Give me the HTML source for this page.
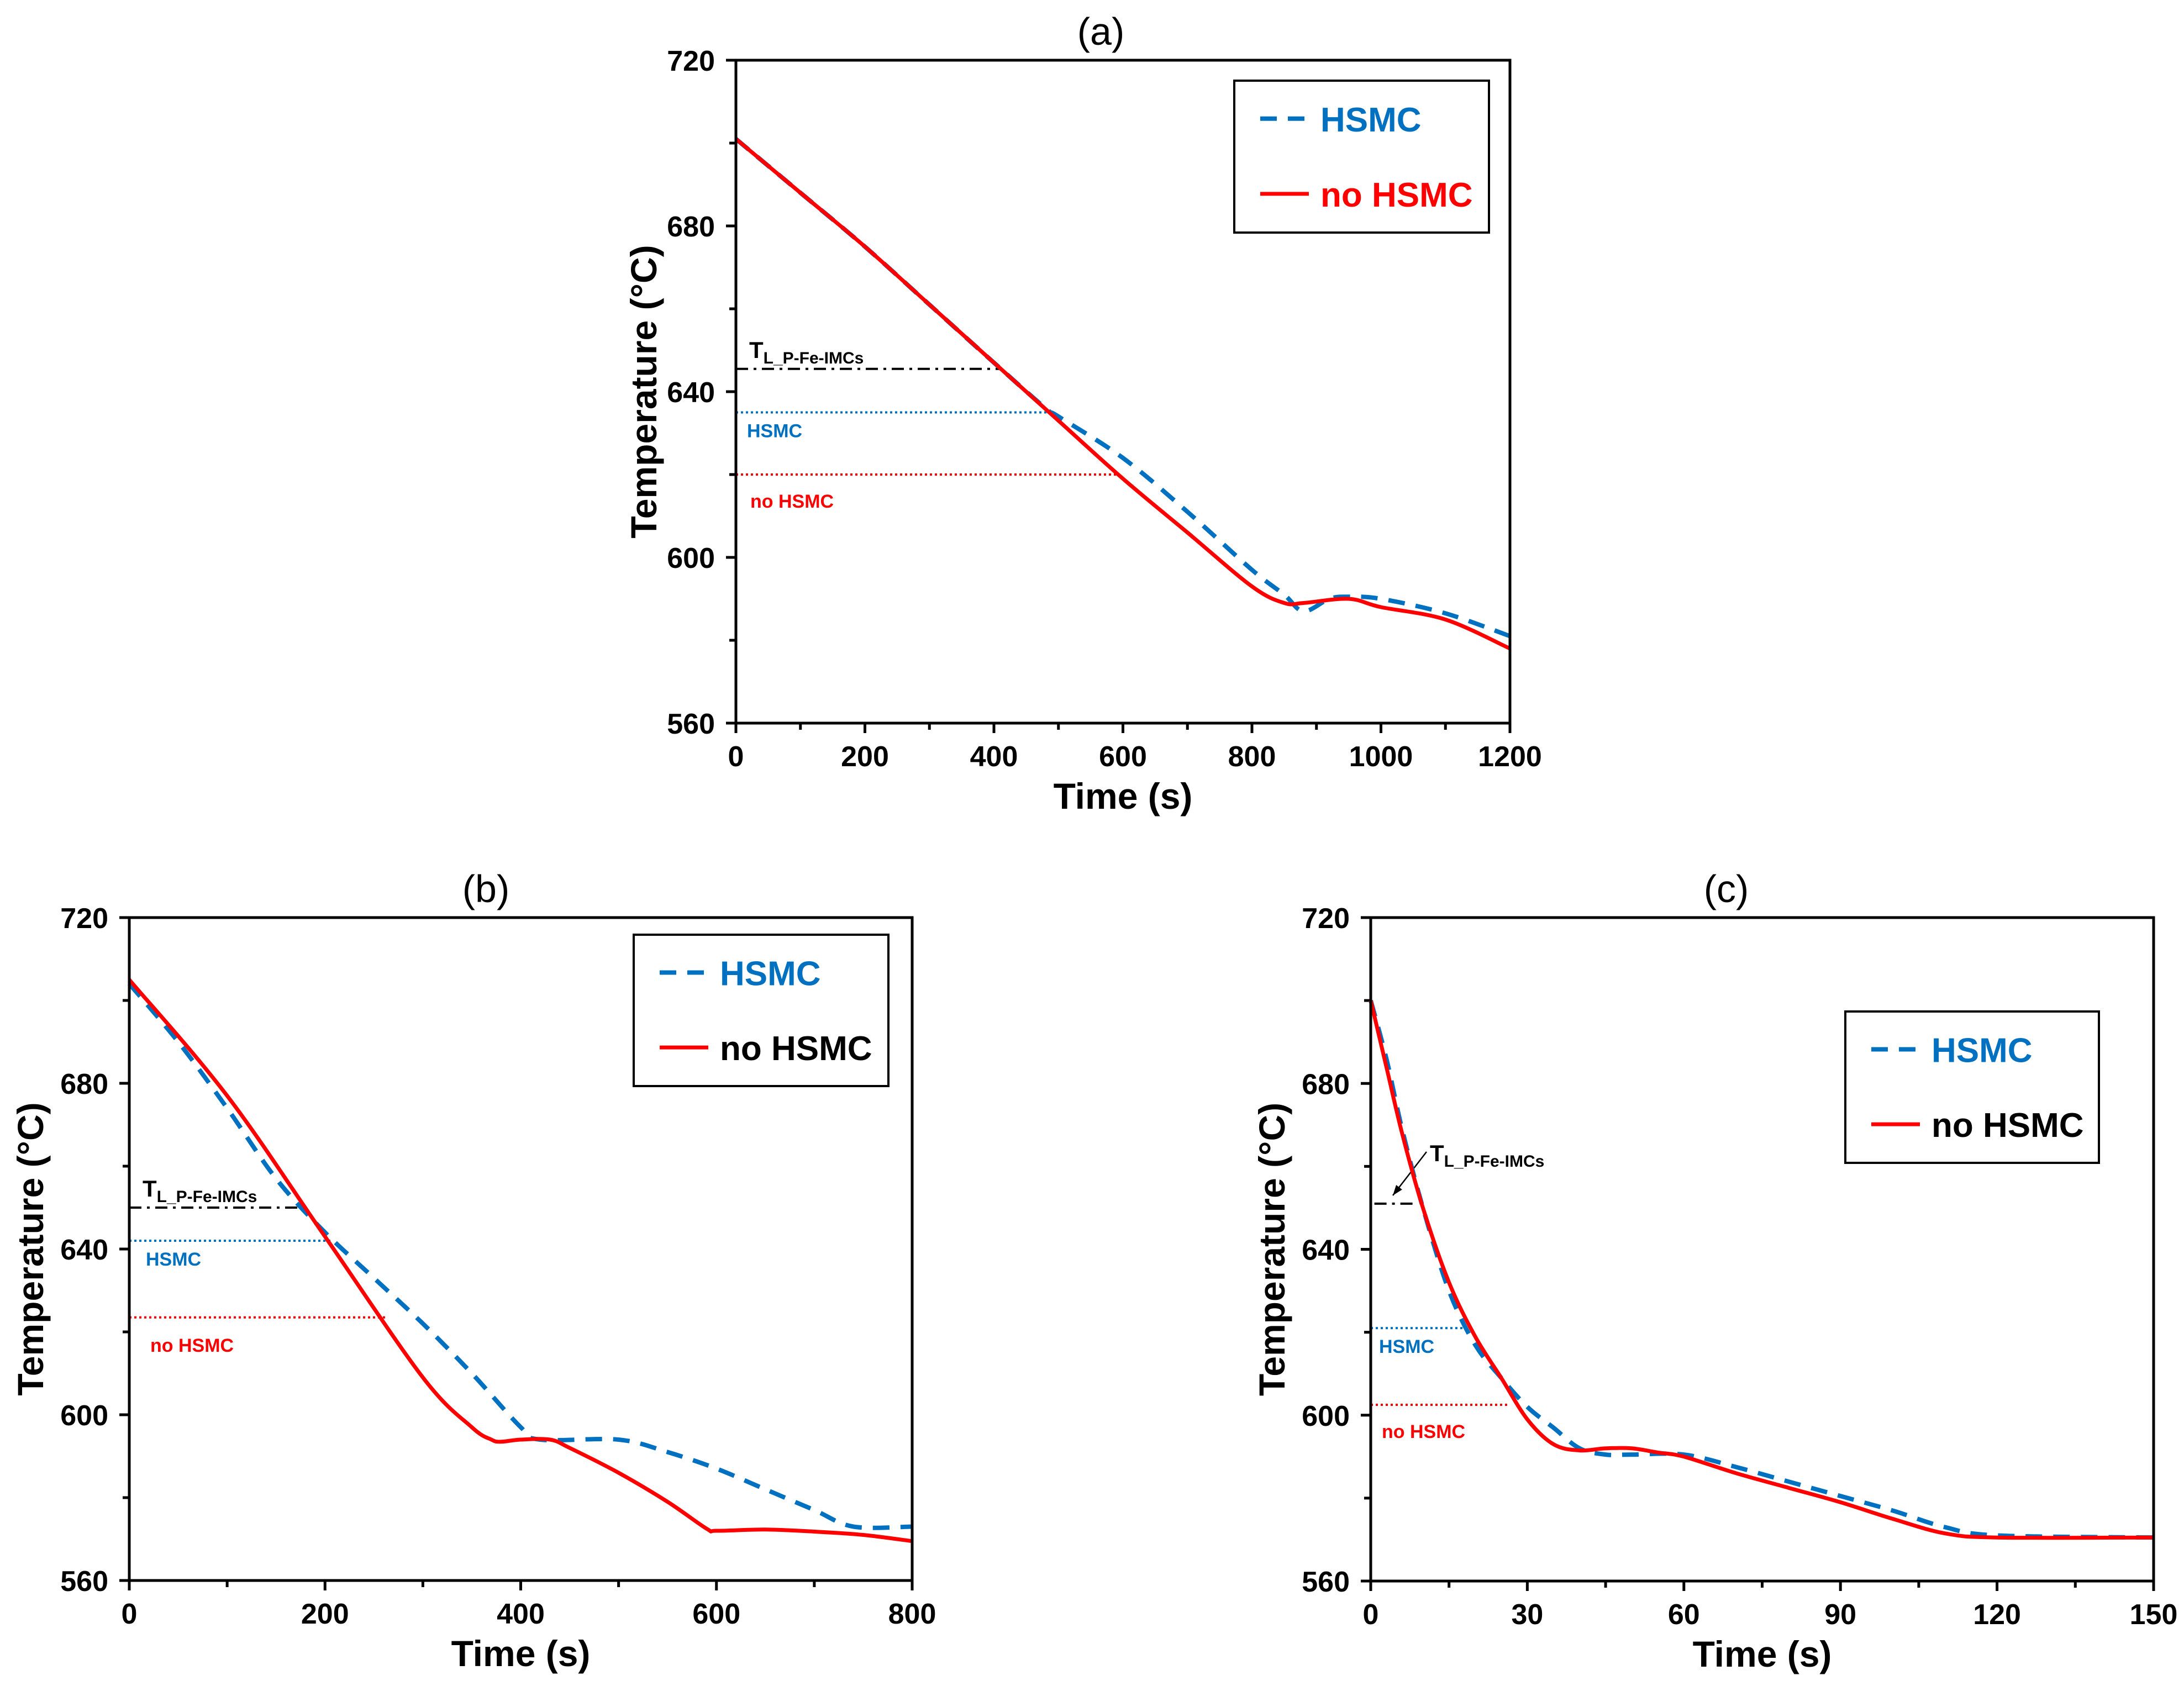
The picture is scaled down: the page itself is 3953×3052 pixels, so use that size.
<!DOCTYPE html>
<html><head><meta charset="utf-8"><style>
html,body{margin:0;padding:0;background:#fff;}
svg{display:block;font-family:"Liberation Sans",Arial,sans-serif;}
</style></head><body>
<svg id="chart" width="3953" height="3052" viewBox="0 0 3953 3052" xmlns="http://www.w3.org/2000/svg"></svg>
<script>
// ---- data: panel (a)
const aTime = [0,100,200,300,400,480,500,600,700,800,850,880,920,950,1000,1100,1200];
const aHSMC = [701,688,675,661,647,636,634,624,611,597,591,587,590,590.5,590,586.5,581];
const aNoTime = [0,100,200,300,400,500,600,700,800,850,880,950,1000,1100,1200];
const aNo = [701,688,675,661,647,633,619,606,593,589,589,590,588,585,578];
// ---- data: panel (b)
const bTime = [0,50,100,150,200,250,300,350,400,420,500,550,600,650,700,740,800];
const bHSMC = [704,690,674,657,644,633,622,610,597,594,594,591,587,582,577,573,573];
const bNoTime = [0,100,200,300,350,370,380,400,430,450,500,550,590,600,650,700,750,800];
const bNo = [705,677,643,609,597,594,593.5,594,594,592,586,579,572.5,572,572.3,571.8,571,569.5];
// ---- data: panel (c)
const cTime = [0,3,6,10,15,20,25,30,35,40,45,50,60,70,80,90,100,110,120,150];
const cHSMC = [700,686,669,650,630,617,609,602,597,592,590.5,590.5,590.5,587.5,584,580.5,577,573,571,570.5];
const cNoTime = [0,3,6,10,15,20,25,30,35,40,45,50,55,60,70,80,90,100,110,120,150];
const cNo = [700,684,668,650,632,619,609,599,593,591.5,592,592,591,590,586,582.5,579,575,571.5,570.5,570.5];
// ---- ticks
const yTicks = [560,600,640,680,720];
const aXTicks = [0,200,400,600,800,1000,1200];
const bXTicks = [0,200,400,600,800];
const cXTicks = [0,30,60,90,120,150];
// reference levels [TL, HSMC, noHSMC] and line end times
const aLevels = [645.5,635,620]; const aEnds = [411,490,590];
const bLevels = [650,642,623.5]; const bEnds = [185,207,262];
const cLevels = [651,621,602.5]; const cEnds = [9,18,26.5];

const NS="http://www.w3.org/2000/svg";
const svg=document.getElementById('chart');
function mk(tag,attrs,parent){const e=document.createElementNS(NS,tag);for(const k in attrs)e.setAttribute(k,attrs[k]);(parent||svg).appendChild(e);return e;}
const BLUE="#0070C0", RED="#FF0000";

function smoothPath(P){
  let d='M'+P[0][0].toFixed(1)+','+P[0][1].toFixed(1);
  for(let i=0;i<P.length-1;i++){
    const p0=P[Math.max(0,i-1)],p1=P[i],p2=P[i+1],p3=P[Math.min(P.length-1,i+2)];
    const k=1/6;
    const c1=[p1[0]+(p2[0]-p0[0])*k,p1[1]+(p2[1]-p0[1])*k];
    const c2=[p2[0]-(p3[0]-p1[0])*k,p2[1]-(p3[1]-p1[1])*k];
    d+=` C${c1[0].toFixed(1)},${c1[1].toFixed(1)} ${c2[0].toFixed(1)},${c2[1].toFixed(1)} ${p2[0].toFixed(1)},${p2[1].toFixed(1)}`;
  }
  return d;
}

function panel(o){
  const g=mk('g',{});
  
  
  const X=t=>o.L+(t-o.xmin)/(o.xmax-o.xmin)*(o.R-o.L);
  const Y=v=>o.B-(v-560)/(720-560)*(o.B-o.T);
  const tt=mk('text',{x:(o.L+o.R)/2-o.tshift,y:o.T-28,'font-size':70,'text-anchor':'middle',fill:'#000'},g);
  tt.textContent='('+o.id+')';
  
  
  const step=(o.xTicks[1]-o.xTicks[0])/2;
  for(let t=o.xmin;t<=o.xmax+1e-9;t+=step){
    const major=o.xTicks.some(v=>Math.abs(v-t)<1e-6);
    mk('line',{x1:X(t),x2:X(t),y1:o.B,y2:o.B+(major?18:12),stroke:'#000','stroke-width':5},g);
  }
  o.xTicks.forEach(t=>{
    const e=mk('text',{x:X(t),y:o.B+78,'font-size':52,'font-weight':'bold','text-anchor':'middle'},g);
    e.textContent=t;
    
    
  });
  for(let v=560;v<=720;v+=20){
    const major=yTicks.includes(v);
    mk('line',{x1:o.L-(major?18:12),x2:o.L,y1:Y(v),y2:Y(v),stroke:'#000','stroke-width':5},g);
  }
  yTicks.forEach(v=>{
    const e=mk('text',{x:o.L-38,y:Y(v)+19,'font-size':52,'font-weight':'bold','text-anchor':'end'},g);
    e.textContent=v;
    
    
  });
  const xt=mk('text',{x:(o.L+o.R)/2,y:o.B+155,'font-size':66,'font-weight':'bold','text-anchor':'middle'},g);
  xt.textContent='Time (s)';
  
  
  const cy=(o.T+o.B)/2;
  const yt=mk('text',{x:o.ytx,y:cy,'font-size':66,'font-weight':'bold','text-anchor':'middle',transform:`rotate(-90 ${o.ytx} ${cy})`},g);
  yt.textContent='Temperature (°C)';
  
  
  const refStyles=[{c:'#000',d:'22 10 5 10',w:4},{c:BLUE,d:'4 5',w:4},{c:RED,d:'4 5',w:4}];
  const refNames=['tl-reference-line','hsmc-reference-line','no-hsmc-reference-line'];
  o.levels.forEach((lv,i)=>{
    const x0=o.id==='c'&&i===0?X(0.7):o.L;
    const l=mk('line',{x1:x0,x2:X(o.ends[i]),y1:Y(lv),y2:Y(lv),stroke:refStyles[i].c,'stroke-width':refStyles[i].w,'stroke-dasharray':refStyles[i].d},g);
    
    
  });
  const tl=mk('text',{x:o.tlx,y:o.tly,'font-size':42,'font-weight':'bold',fill:'#000'},g);
  
  
  tl.innerHTML='T<tspan font-size="30" dy="10">L_P-Fe-IMCs</tspan>';
  const hl=mk('text',{x:o.hx,y:Y(o.levels[1])+45,'font-size':34,'font-weight':'bold',fill:BLUE},g);
  hl.textContent='HSMC';
  
  
  const nl=mk('text',{x:o.nx,y:Y(o.levels[2])+o.noff,'font-size':34,'font-weight':'bold',fill:RED},g);
  nl.textContent='no HSMC';
  
  
  if(o.arrow){
    const a=mk('line',{x1:o.arrow[0],y1:o.arrow[1],x2:o.arrow[2],y2:o.arrow[3],stroke:'#000','stroke-width':2.5},g);
    
    
    const ang=Math.atan2(o.arrow[3]-o.arrow[1],o.arrow[2]-o.arrow[0]);
    const hx=o.arrow[2],hy=o.arrow[3],s=20;
    mk('polygon',{points:`${hx},${hy} ${hx-s*Math.cos(ang-0.35)},${hy-s*Math.sin(ang-0.35)} ${hx-s*Math.cos(ang+0.35)},${hy-s*Math.sin(ang+0.35)}`,fill:'#000'},g);
  }
  const pts=(ts,vs)=>ts.map((t,i)=>[X(t),Y(vs[i])]);
  const bl=mk('path',{d:smoothPath(pts(o.hT,o.hV)),fill:'none',stroke:BLUE,'stroke-width':8,'stroke-dasharray':'30 20','stroke-linejoin':'round'},g);
  
  
  const rl=mk('path',{d:smoothPath(pts(o.nT,o.nV)),fill:'none',stroke:RED,'stroke-width':7,'stroke-linejoin':'round'},g);
  
  
  const fr=mk('rect',{x:o.L,y:o.T,width:o.R-o.L,height:o.B-o.T,fill:'none',stroke:'#000','stroke-width':5},g);
  
  
  const lg=mk('g',{},g);
  
  
  const [lx,ly,lw,lh]=o.leg;
  mk('rect',{x:lx,y:ly,width:lw,height:lh,fill:'#fff',stroke:'#000','stroke-width':4},lg);
  const e1y=ly+lh*0.25, e2y=ly+lh*0.745;
  mk('line',{x1:lx+47,x2:lx+135,y1:e1y,y2:e1y,stroke:BLUE,'stroke-width':8,'stroke-dasharray':'30 20'},lg);
  mk('line',{x1:lx+47,x2:lx+135,y1:e2y,y2:e2y,stroke:RED,'stroke-width':7},lg);
  const t1=mk('text',{x:lx+156,y:e1y+23,'font-size':62,'font-weight':'bold',fill:BLUE},lg);
  t1.textContent='HSMC';
  
  
  const t2=mk('text',{x:lx+156,y:e2y+23,'font-size':62,'font-weight':'bold',fill:o.id==='a'?RED:'#000'},lg);
  t2.textContent='no HSMC';
  
  
}

panel({id:'a',L:1332,R:2733,T:109,B:1309,xmin:0,xmax:1200,xTicks:aXTicks,ytx:1188,tshift:40,
  levels:aLevels,ends:aEnds,tlx:1356,tly:648,hx:1352,nx:1358,noff:60,
  hT:aTime,hV:aHSMC,nT:aNoTime,nV:aNo,leg:[2234,146,461,275]});
panel({id:'b',L:234,R:1651,T:1661,B:2861,xmin:0,xmax:800,xTicks:bXTicks,ytx:78,tshift:63,
  levels:bLevels,ends:bEnds,tlx:258,tly:2166,hx:264,nx:272,noff:62,
  hT:bTime,hV:bHSMC,nT:bNoTime,nV:bNo,leg:[1147,1692,461,274]});
panel({id:'c',L:2481,R:3898,T:1661,B:2862,xmin:0,xmax:150,xTicks:cXTicks,ytx:2325,tshift:65,
  levels:cLevels,ends:cEnds,tlx:2588,tly:2102,hx:2496,nx:2501,noff:60,arrow:[2582,2085,2521,2164],
  hT:cTime,hV:cHSMC,nT:cNoTime,nV:cNo,leg:[3340,1831,459,274]});
</script>
</body></html>
